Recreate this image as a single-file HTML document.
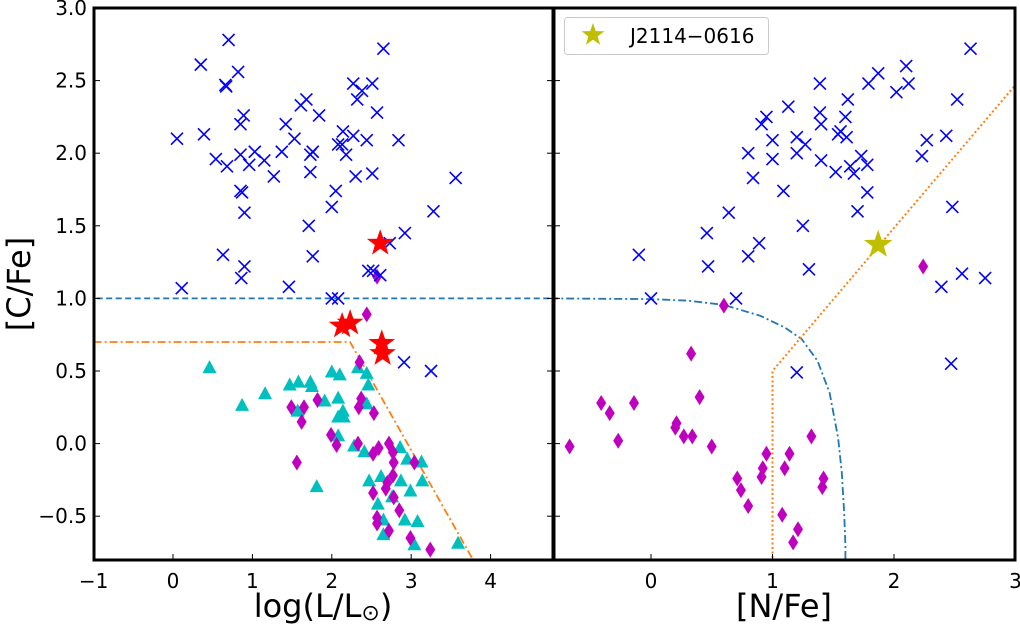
<!DOCTYPE html>
<html><head><meta charset="utf-8"><style>
html,body{margin:0;padding:0;background:#fff;}
svg{display:block;font-family:"DejaVu Sans","Liberation Sans",sans-serif;}
</style></head><body>
<svg id="chart" width="1020" height="625" viewBox="0 0 1020 625" xmlns="http://www.w3.org/2000/svg">
<defs>
<clipPath id="clipL"><rect x="94" y="8" width="459" height="552"/></clipPath>
<clipPath id="clipR"><rect x="554" y="8" width="461" height="552"/></clipPath>
</defs>
<g id="left" clip-path="url(#clipL)"></g>
<g id="right" clip-path="url(#clipR)"></g>
<g id="axes"></g>
<g>
<rect x="564.5" y="17.5" width="204" height="37" rx="3" fill="#fff" stroke="#ccc" stroke-width="1"/>
<g id="legstar"></g>
<text x="630" y="43" font-size="20" fill="#000">J2114−0616</text>
</g>
<text x="323" y="617" font-size="32" text-anchor="middle">log(L/L<tspan font-size="22" dy="3">⊙</tspan><tspan dy="-3">)</tspan></text>
<text x="784" y="617" font-size="32" text-anchor="middle">[N/Fe]</text>
<text x="0" y="0" font-size="32" text-anchor="middle" transform="translate(30,284) rotate(-90)">[C/Fe]</text>
</svg>
<script>
// ---- data ----
const leftCrossX=[0.70,0.35,0.82,0.66,0.67,2.65,2.27,2.51,2.38,2.32,2.57,1.68,1.61,1.84,0.89,0.85,1.42,0.05,0.39,1.53,2.14,2.27,2.08,2.13,2.18,2.44,2.84,0.54,0.68,0.85,0.96,1.03,1.15,1.37,1.73,1.76,1.73,1.27,2.30,2.51,3.56,0.85,0.87,2.05,0.90,2.00,3.28,1.71,2.92,2.73,0.63,1.76,0.90,0.86,2.46,2.61,2.52,0.11,1.46,2.00,2.08,2.91,3.25];
const leftCrossY=[2.78,2.61,2.56,2.47,2.46,2.72,2.48,2.48,2.43,2.37,2.28,2.37,2.33,2.26,2.26,2.20,2.20,2.10,2.13,2.10,2.15,2.12,2.06,2.06,1.99,2.09,2.09,1.96,1.91,1.99,1.92,2.01,1.95,2.01,1.99,2.01,1.87,1.84,1.84,1.86,1.83,1.74,1.73,1.74,1.59,1.63,1.60,1.50,1.45,1.38,1.30,1.29,1.22,1.14,1.19,1.16,1.19,1.07,1.08,1.00,1.00,0.56,0.50];
const leftDiamX=[2.44,2.57,2.35,2.37,2.34,2.53,1.82,1.49,1.65,1.62,1.99,2.06,1.56,2.33,2.52,2.59,2.72,2.77,2.78,3.04,2.77,2.70,2.68,2.52,2.78,2.85,2.57,2.57,2.72,2.99,3.24];
const leftDiamY=[0.89,1.15,0.56,0.31,0.25,0.21,0.30,0.25,0.25,0.15,0.06,-0.01,-0.13,0.00,-0.07,-0.03,0.00,-0.06,-0.13,-0.13,-0.22,-0.27,-0.31,-0.34,-0.37,-0.46,-0.51,-0.55,-0.60,-0.65,-0.73];
const leftTriX=[0.46,0.87,1.16,1.47,1.58,1.73,1.75,1.91,2.00,2.10,2.08,2.14,2.08,2.15,2.33,2.44,2.46,2.44,1.57,2.08,2.28,2.41,2.86,2.95,3.13,2.47,2.62,2.87,3.14,2.99,1.81,2.58,2.76,2.92,3.08,2.65,2.65,3.04,3.59];
const leftTriY=[0.52,0.26,0.34,0.40,0.42,0.42,0.39,0.29,0.49,0.47,0.31,0.22,0.18,0.18,0.52,0.48,0.40,0.27,0.22,0.05,-0.02,-0.06,-0.03,-0.11,-0.13,-0.26,-0.23,-0.26,-0.26,-0.33,-0.30,-0.42,-0.37,-0.53,-0.54,-0.53,-0.63,-0.70,-0.69];
const leftStarX=[2.61,2.13,2.23,2.63,2.64];
const leftStarY=[1.38,0.81,0.83,0.69,0.62];
const rightCrossX=[2.63,2.10,1.87,1.79,2.12,2.02,1.39,1.62,2.52,1.13,0.95,0.91,1.39,1.40,1.60,1.56,1.54,1.61,1.00,1.20,1.27,1.20,0.80,1.00,1.40,1.52,1.64,1.73,1.78,1.67,2.27,2.43,2.23,0.84,1.09,1.78,2.48,1.70,0.64,1.25,0.46,0.89,0.80,-0.10,0.47,1.30,2.39,2.56,2.75,0.00,0.70,1.20,2.47];
const rightCrossY=[2.72,2.60,2.55,2.48,2.48,2.42,2.48,2.37,2.37,2.32,2.25,2.20,2.28,2.20,2.25,2.15,2.13,2.11,2.09,2.11,2.06,2.00,2.00,1.96,1.95,1.87,1.91,1.98,1.92,1.86,2.09,2.12,1.98,1.83,1.74,1.73,1.63,1.60,1.59,1.50,1.45,1.38,1.29,1.30,1.22,1.20,1.08,1.17,1.14,1.00,1.00,0.49,0.55];
const rightDiamX=[2.24,0.60,0.33,0.40,-0.41,-0.34,-0.14,-0.27,-0.67,0.21,0.20,0.27,0.34,0.50,0.95,1.14,1.32,0.92,0.91,1.10,0.71,0.74,0.80,1.42,1.41,1.08,1.21,1.17];
const rightDiamY=[1.22,0.95,0.62,0.32,0.28,0.21,0.28,0.02,-0.02,0.14,0.11,0.05,0.05,-0.02,-0.07,-0.07,0.05,-0.17,-0.23,-0.17,-0.24,-0.32,-0.43,-0.24,-0.30,-0.49,-0.59,-0.68];
const targetX=[1.87];
const targetY=[1.37];
const leftCutX=[-1.0,2.23,3.8];
const leftCutY=[0.7,0.7,-0.82];
const rightCurveX=[-0.83,0.0,0.3,0.6,0.9,1.1,1.24,1.37,1.47,1.54,1.57,1.59,1.6,1.6];
const rightCurveY=[1.0,0.995,0.985,0.955,0.88,0.8,0.72,0.57,0.35,0.04,-0.2,-0.48,-0.7,-0.85];
const rightDotX=[1.0,1.0,3.05];
const rightDotY=[-0.85,0.5,2.52];
const leftTicks=[-1,0,1,2,3,4];
const rightTicks=[0,1,2,3];
const yTicks=[-0.5,0.0,0.5,1.0,1.5,2.0,2.5,3.0];
const yTickLabels=["−0.5","0.0","0.5","1.0","1.5","2.0","2.5","3.0"];

// ---- scales ----
const xL=v=>173+v*79.4;
const xR=v=>651+v*121.5;
const yS=v=>443.6-v*145.2;
const NS='http://www.w3.org/2000/svg';
function mk(tag,parent,attrs){const e=document.createElementNS(NS,tag);for(const k in attrs)e.setAttribute(k,attrs[k]);parent.appendChild(e);return e;}
const L=document.getElementById('left'),R=document.getElementById('right'),A=document.getElementById('axes');

function cross(g,cx,cy){const p=mk('path',g,{d:`M${cx-6},${cy-6}L${cx+6},${cy+6}M${cx-6},${cy+6}L${cx+6},${cy-6}`,stroke:'#0000ff','stroke-width':1.6,fill:'none'});

}
function diam(g,cx,cy){const p=mk('path',g,{d:`M${cx},${cy-8}L${cx+5},${cy}L${cx},${cy+8}L${cx-5},${cy}Z`,fill:'#bf00bf'});

}
function tri(g,cx,cy){const p=mk('path',g,{d:`M${cx},${cy-8}L${cx+7},${cy+5}L${cx-7},${cy+5}Z`,fill:'#00bfbf'});

}
function star(g,cx,cy,r,col,name){let d='';for(let i=0;i<10;i++){const rr=i%2?r*0.4:r;const a=-Math.PI/2+i*Math.PI/5;d+=(i?'L':'M')+(cx+rr*Math.cos(a)).toFixed(1)+','+(cy+rr*Math.sin(a)).toFixed(1);}
const p=mk('path',g,{d:d+'Z',fill:col});

}
function line(g,xs,ys,xf,attrs,name){const d=xs.map((v,i)=>(i?'L':'M')+xf(v).toFixed(1)+','+yS(ys[i]).toFixed(1)).join('');const p=mk('path',g,Object.assign({d:d,fill:'none'},attrs));

}

// left panel
line(L,[-1.2,5],[1,1],xL,{stroke:'#1f77b4','stroke-width':1.8,'stroke-dasharray':'6,3.5'},'carbon-threshold-line');
line(L,leftCutX,leftCutY,xL,{stroke:'#ff7f0e','stroke-width':1.8,'stroke-dasharray':'8,3,2,3'},'mixing-boundary-line');
leftTriX.forEach((v,i)=>tri(L,xL(v),yS(leftTriY[i])));
leftDiamX.forEach((v,i)=>diam(L,xL(v),yS(leftDiamY[i])));
leftCrossX.forEach((v,i)=>cross(L,xL(v),yS(leftCrossY[i])));
leftStarX.forEach((v,i)=>star(L,xL(v),yS(leftStarY[i]),14,'#ff0000','red-star'));
// right panel
line(R,rightCurveX,rightCurveY,xR,{stroke:'#1f77b4','stroke-width':1.8,'stroke-dasharray':'8,3,2,3'},'boundary-curve');
line(R,rightDotX,rightDotY,xR,{stroke:'#ff7f0e','stroke-width':2,'stroke-dasharray':'2,2.5'},'dotted-boundary');
rightDiamX.forEach((v,i)=>diam(R,xR(v),yS(rightDiamY[i])));
rightCrossX.forEach((v,i)=>cross(R,xR(v),yS(rightCrossY[i])));
targetX.forEach((v,i)=>star(R,xR(v),yS(targetY[i]),15,'#bfbf00','target-star'));
star(document.getElementById('legstar'),593,35,12,'#bfbf00','legend-star-icon');

// axes frames
[[94,8,459,552],[554,8,461,552]].forEach(f=>{const r=mk('rect',A,{x:f[0],y:f[1],width:f[2],height:f[3],fill:'none',stroke:'#000','stroke-width':3});

});
leftTicks.forEach(v=>{const x=xL(v);if(x>95){mk('line',A,{x1:x,y1:560,x2:x,y2:554,stroke:'#000','stroke-width':1});}
const t=mk('text',A,{x:x,y:588,'font-size':20,'text-anchor':'middle'});t.textContent=v<0?'−'+Math.abs(v):String(v);

});
rightTicks.forEach(v=>{const x=xR(v);mk('line',A,{x1:x,y1:560,x2:x,y2:554,stroke:'#000','stroke-width':1});
const t=mk('text',A,{x:x,y:588,'font-size':20,'text-anchor':'middle'});t.textContent=String(v);

});
yTicks.forEach((v,i)=>{const y=yS(v);
mk('line',A,{x1:94,y1:y,x2:100,y2:y,stroke:'#000','stroke-width':1});
mk('line',A,{x1:553,y1:y,x2:547,y2:y,stroke:'#000','stroke-width':1});
mk('line',A,{x1:554,y1:y,x2:560,y2:y,stroke:'#000','stroke-width':1});
const t=mk('text',A,{x:87,y:y+7,'font-size':20,'text-anchor':'end'});t.textContent=yTickLabels[i];

});
</script>
</body></html>
